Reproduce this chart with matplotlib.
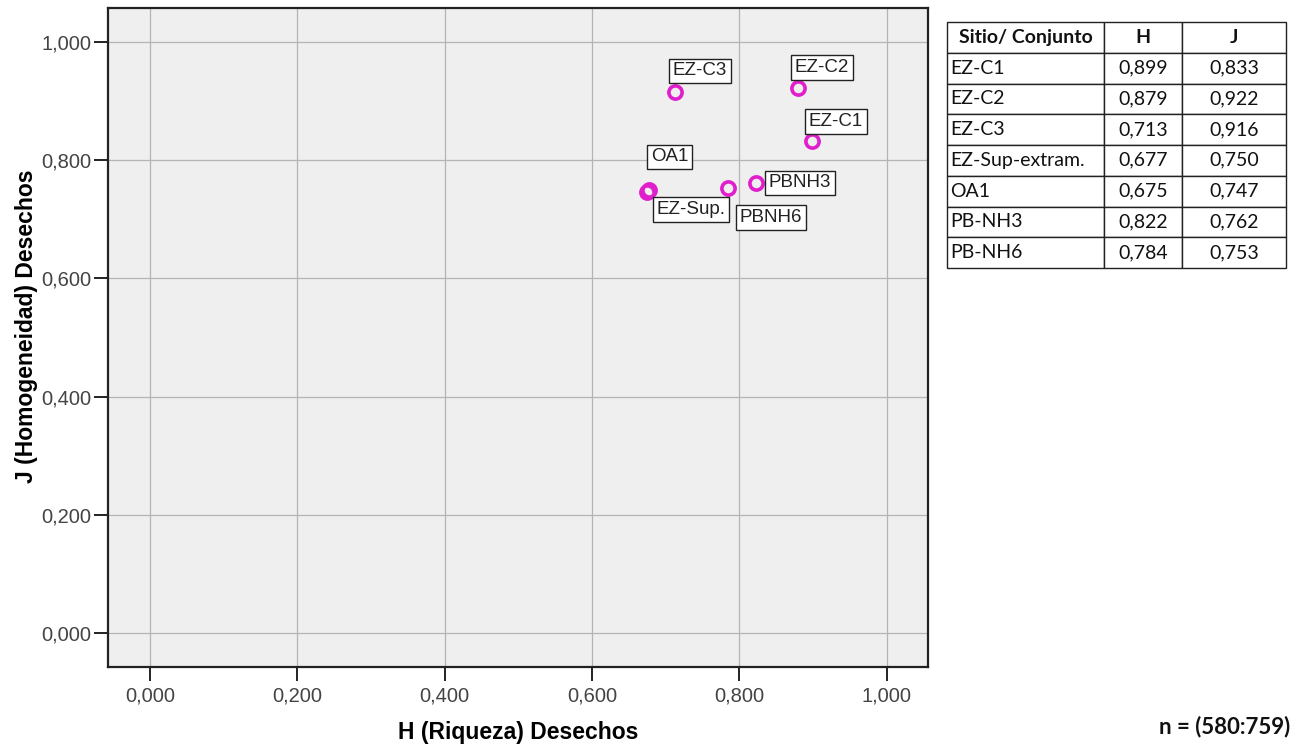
import matplotlib.pyplot as plt
from matplotlib.ticker import FuncFormatter

plt.rcParams['font.family'] = ['Liberation Sans', 'DejaVu Sans']

# Data (Shannon H and evenness J per site)
sites = ['EZ-C1', 'EZ-C2', 'EZ-C3', 'EZ-Sup-extram.', 'OA1', 'PB-NH3', 'PB-NH6']
h_vals = [0.899, 0.879, 0.713, 0.677, 0.675, 0.822, 0.784]
j_vals = [0.833, 0.922, 0.916, 0.750, 0.747, 0.762, 0.753]
point_labels = ['EZ-C1', 'EZ-C2', 'EZ-C3', 'EZ-Sup.', 'OA1', 'PBNH3', 'PBNH6']
ticks = [0.0, 0.2, 0.4, 0.6, 0.8, 1.0]

# label offsets in points and vertical anchor
label_offsets = {
    'EZ-C1': (-2.5, 8, 'bottom'),
    'EZ-C2': (-2, 9, 'bottom'),
    'EZ-C3': (-2, 9, 'bottom'),
    'EZ-Sup.': (5.5, -8, 'top'),
    'OA1': (2.5, 19, 'bottom'),
    'PBNH3': (9.5, 0, 'center'),
    'PBNH6': (8.5, -15, 'top'),
}

fig = plt.figure(figsize=(12.96, 7.53), dpi=100)
ax = fig.add_axes([108 / 1296, 1 - 667 / 753, (928 - 108) / 1296, (667 - 8) / 753])

ax.set_facecolor('#EFEFEF')
ax.set_xlim(-0.057, 1.056)
ax.set_ylim(-0.058, 1.058)
ax.set_xticks(ticks)
ax.set_yticks(ticks)
fmt = FuncFormatter(lambda v, p: f'{v:.3f}'.replace('.', ','))
ax.xaxis.set_major_formatter(fmt)
ax.yaxis.set_major_formatter(fmt)
ax.grid(True, color='#B4B4B4', linewidth=0.9)
ax.set_axisbelow(True)
for s in ax.spines.values():
    s.set_color('#222222')
    s.set_linewidth(1.6)
ax.tick_params(axis='both', direction='out', length=10, width=1.4, color='#222222',
               labelsize=14.5, labelcolor='#444444')
ax.tick_params(axis='x', pad=4)
ax.tick_params(axis='y', pad=2)

ax.plot(h_vals, j_vals, linestyle='none', marker='o', markersize=9.5,
        markerfacecolor='none', markeredgecolor='#E01ECC', markeredgewidth=2.6,
        zorder=3)

for x, y, lab in zip(h_vals, j_vals, point_labels):
    dx, dy, va = label_offsets[lab]
    ax.annotate(lab, (x, y), xytext=(dx, dy), textcoords='offset points',
                ha='left', va=va, fontsize=13.5, color='#222222',
                bbox=dict(boxstyle='square,pad=0.2', facecolor='white',
                          edgecolor='#222222', linewidth=1.0),
                zorder=4)

ax.set_xlabel('H (Riqueza) Desechos', fontsize=16.5, fontweight='bold')
ax.set_ylabel('J (Homogeneidad) Desechos', fontsize=16.5, fontweight='bold')
ax.xaxis.set_label_coords(0.5, -0.082)
ax.yaxis.set_label_coords(-0.085, 0.517)

# Summary table on the right
cell_text = [[s, f'{h:.3f}'.replace('.', ','), f'{j:.3f}'.replace('.', ',')]
             for s, h, j in zip(sites, h_vals, j_vals)]
tab_ax = fig.add_axes([947 / 1296, 1 - 268 / 753, (1286 - 947) / 1296, (268 - 22) / 753])
tab_ax.axis('off')
table = tab_ax.table(cellText=cell_text, colLabels=['Sitio/ Conjunto', 'H', 'J'],
                     colWidths=[157, 78, 104], cellLoc='center',
                     bbox=[0, 0, 1, 1])
table.auto_set_font_size(False)
for (r, c), cell in table.get_celld().items():
    cell.set_edgecolor('#222222')
    cell.set_linewidth(1.0)
    txt = cell.get_text()
    txt.set_fontsize(14)
    txt.set_family('Lato')
    txt.set_color('#111111')
    if r == 0:
        txt.set_fontweight('bold')
    elif c == 0:
        cell.set_text_props(ha='left')
        cell.PAD = 0.02

fig.text(1290 / 1296, 1 - 727 / 753, 'n = (580:759)', ha='right', va='center',
         fontsize=16, fontweight='bold', family='Lato', color='#111111')

fig.savefig('out.png', dpi=100)
